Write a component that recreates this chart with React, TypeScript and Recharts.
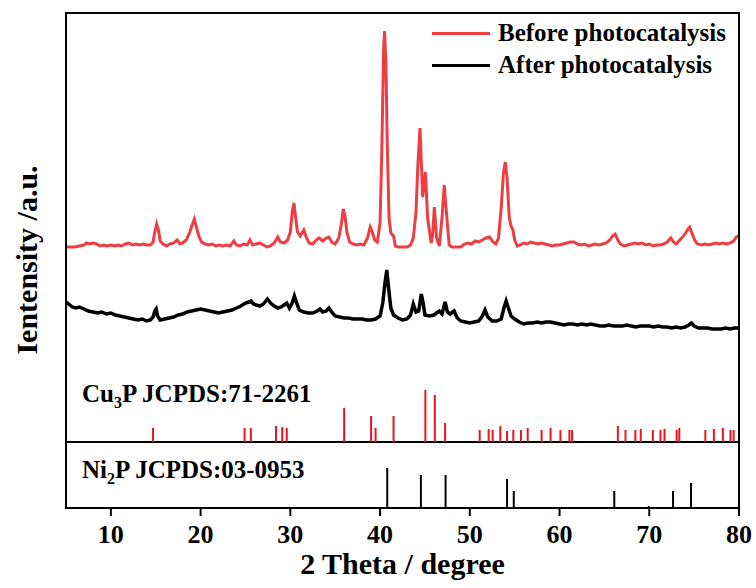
import { ComposedChart, Line, XAxis, YAxis, ReferenceLine } from "recharts";

// intensity in arbitrary units (stacked offsets baked in, 0 = bottom of the plot)
const xTicks = [10, 20, 30, 40, 50, 60, 70, 80];

const beforePattern: [number, number][] = [
  [5.0, 261], [5.5, 261], [6.0, 261], [6.5, 262], [7.0, 263], [7.3, 265], [7.6, 264], [8.0, 265],
  [8.4, 264], [8.8, 262], [9.2, 263], [9.6, 262], [10.0, 263], [10.4, 262], [10.8, 263], [11.2, 262],
  [11.6, 264], [12.0, 265], [12.4, 263], [12.8, 264], [13.2, 263], [13.6, 264], [14.0, 263], [14.4, 263],
  [14.7, 266], [14.9, 276], [15.1, 284], [15.3, 278], [15.5, 267], [15.8, 264], [16.2, 262], [16.6, 264],
  [17.0, 265], [17.4, 268], [17.7, 264], [18.0, 265], [18.4, 268], [18.8, 276], [19.1, 284], [19.3, 289],
  [19.5, 282], [19.8, 272], [20.1, 266], [20.5, 264], [20.9, 263], [21.3, 264], [21.7, 262], [22.1, 263],
  [22.5, 262], [22.9, 263], [23.3, 262], [23.7, 267], [24.0, 263], [24.4, 262], [24.8, 264], [25.2, 263],
  [25.5, 268], [25.8, 263], [26.2, 264], [26.6, 265], [27.0, 263], [27.4, 261], [27.8, 262], [28.2, 265],
  [28.6, 271], [28.9, 266], [29.3, 265], [29.7, 268], [30.0, 276], [30.2, 295], [30.4, 305], [30.6, 290],
  [30.8, 276], [31.1, 272], [31.5, 278], [31.8, 270], [32.1, 265], [32.5, 264], [32.9, 268], [33.2, 270],
  [33.6, 267], [34.0, 270], [34.3, 271], [34.6, 266], [35.0, 264], [35.4, 270], [35.7, 285], [35.9, 299],
  [36.1, 292], [36.3, 276], [36.6, 266], [37.0, 264], [37.4, 263], [37.8, 264], [38.2, 263], [38.6, 270],
  [38.9, 281], [39.1, 277], [39.4, 268], [39.7, 266], [40.0, 285], [40.2, 360], [40.4, 460], [40.5, 477],
  [40.65, 445], [40.8, 365], [41.0, 290], [41.2, 275], [41.5, 272], [41.7, 262], [42.0, 261], [42.5, 261],
  [43.0, 261], [43.4, 263], [43.7, 270], [44.0, 295], [44.2, 340], [44.45, 380], [44.75, 311], [45.05, 336],
  [45.3, 290], [45.7, 265], [45.85, 272], [46.05, 301], [46.3, 270], [46.6, 262], [46.9, 290], [47.15, 323],
  [47.4, 295], [47.7, 263], [48.0, 261], [48.5, 261], [49.0, 261], [49.4, 264], [49.8, 265], [50.2, 264],
  [50.6, 267], [51.0, 266], [51.4, 268], [51.8, 270], [52.2, 271], [52.6, 266], [52.9, 264], [53.2, 270],
  [53.5, 300], [53.75, 335], [53.95, 346], [54.15, 330], [54.4, 290], [54.6, 282], [54.8, 278], [55.0, 268],
  [55.3, 262], [55.6, 263], [56.0, 265], [56.4, 264], [56.8, 266], [57.2, 265], [57.6, 264], [58.0, 265],
  [58.4, 264], [58.8, 263], [59.2, 262], [59.6, 263], [60.0, 263], [60.4, 264], [60.8, 265], [61.2, 266],
  [61.6, 266], [62.0, 264], [62.4, 263], [62.8, 264], [63.2, 262], [63.6, 263], [64.0, 264], [64.4, 263],
  [64.8, 264], [65.2, 265], [65.6, 268], [65.9, 272], [66.2, 274], [66.5, 268], [66.8, 264], [67.2, 262],
  [67.6, 263], [68.0, 264], [68.4, 265], [68.8, 264], [69.2, 265], [69.6, 263], [70.0, 264], [70.4, 262],
  [70.8, 263], [71.2, 263], [71.6, 264], [72.0, 266], [72.4, 270], [72.7, 266], [73.0, 264], [73.3, 267],
  [73.7, 271], [74.0, 274], [74.3, 279], [74.5, 281], [74.8, 274], [75.1, 267], [75.4, 264], [75.8, 263],
  [76.2, 264], [76.6, 263], [77.0, 264], [77.4, 265], [77.8, 264], [78.2, 265], [78.6, 264], [79.0, 265],
  [79.4, 267], [79.7, 271], [80.0, 272],
];

const afterPattern: [number, number][] = [
  [5.0, 206], [5.3, 204], [5.7, 201], [6.1, 200], [6.5, 201], [7.0, 199], [7.5, 197], [8.0, 196],
  [8.5, 195], [9.0, 196], [9.5, 194], [10.0, 195], [10.5, 193], [11.0, 192], [11.5, 191], [12.0, 190],
  [12.5, 189], [13.0, 188], [13.5, 189], [14.0, 187], [14.4, 188], [14.7, 191], [14.9, 197], [15.05, 199],
  [15.2, 192], [15.5, 188], [16.0, 189], [16.5, 190], [17.0, 191], [17.5, 193], [18.0, 194], [18.5, 196],
  [19.0, 197], [19.5, 198], [20.0, 199], [20.5, 198], [21.0, 197], [21.5, 196], [22.0, 195], [22.5, 196],
  [23.0, 197], [23.5, 198], [24.0, 200], [24.5, 202], [25.0, 205], [25.4, 206], [25.6, 207], [25.9, 204],
  [26.2, 203], [26.6, 202], [27.0, 204], [27.45, 209], [27.8, 205], [28.2, 202], [28.6, 200], [29.0, 201],
  [29.3, 203], [29.6, 205], [29.9, 200], [30.2, 205], [30.45, 212], [30.7, 205], [31.0, 198], [31.5, 196],
  [32.0, 195], [32.5, 195], [33.0, 197], [33.3, 199], [33.6, 196], [34.0, 197], [34.3, 200], [34.6, 196],
  [35.0, 192], [35.5, 191], [36.0, 190], [36.5, 190], [37.0, 189], [37.5, 189], [38.0, 189], [38.5, 188],
  [39.0, 188], [39.5, 189], [40.0, 192], [40.3, 205], [40.55, 225], [40.75, 238], [40.95, 220], [41.2, 200],
  [41.5, 193], [42.0, 190], [42.5, 188], [43.0, 189], [43.4, 193], [43.7, 204], [44.0, 196], [44.3, 197],
  [44.6, 214], [44.8, 205], [45.0, 193], [45.5, 192], [46.0, 193], [46.3, 195], [46.6, 197], [46.9, 194],
  [47.25, 206], [47.5, 196], [47.8, 194], [48.25, 197], [48.6, 190], [49.0, 187], [49.5, 186], [50.0, 185],
  [50.5, 186], [51.0, 187], [51.4, 192], [51.7, 198], [52.0, 191], [52.5, 187], [53.0, 187], [53.5, 189],
  [53.8, 200], [54.05, 207], [54.3, 200], [54.6, 192], [55.0, 189], [55.5, 186], [56.0, 184], [56.5, 185],
  [57.0, 185], [57.5, 186], [58.0, 185], [58.5, 186], [59.0, 186], [59.5, 185], [60.0, 184], [60.5, 183],
  [61.0, 184], [61.5, 184], [62.0, 183], [62.5, 184], [63.0, 183], [63.5, 184], [64.0, 183], [64.5, 182],
  [65.0, 182], [65.5, 183], [66.0, 182], [66.5, 182], [67.0, 182], [67.5, 183], [68.0, 182], [68.5, 181],
  [69.0, 182], [69.5, 182], [70.0, 182], [70.5, 181], [71.0, 182], [71.5, 181], [72.0, 181], [72.5, 180],
  [73.0, 181], [73.5, 180], [74.0, 181], [74.4, 183], [74.7, 185], [75.0, 182], [75.5, 180], [76.0, 180],
  [76.5, 180], [77.0, 179], [77.5, 179], [78.0, 179], [78.5, 180], [79.0, 179], [79.5, 180], [80.0, 180],
];

// reference cards: [2theta, relative height]
const cu3pSticks: [number, number][] = [
  [14.7, 14], [24.9, 14], [25.6, 14], [28.4, 16], [29.1, 15], [29.6, 14], [36.0, 34], [39.0, 26],
  [39.5, 14], [41.5, 26], [45.05, 52], [46.1, 47], [47.25, 19], [51.1, 12], [52.1, 13], [52.55, 12],
  [53.4, 16], [54.15, 11], [54.85, 12], [55.7, 12], [56.45, 14], [58.0, 12], [59.0, 14], [60.1, 12],
  [61.1, 12], [61.4, 12], [66.5, 16], [67.35, 12], [68.45, 12], [69.05, 13], [70.4, 12], [71.25, 12],
  [71.7, 13], [73.05, 12], [73.35, 14], [76.25, 12], [77.2, 13], [78.2, 14], [79.05, 12], [79.4, 12],
];
const ni2pSticks: [number, number][] = [
  [40.8, 40], [44.55, 33], [47.3, 33], [54.15, 29], [54.9, 17], [63.5, 1], [66.1, 17], [69.95, 2],
  [72.65, 17], [74.65, 25],
];
const CU3P_BASE = 66;
const NI2P_BASE = 0;
const Y_MAX = 495;

const RED = "#ee3e44";
const STICK_RED = "#e8141e";
const FONT = "'Liberation Serif', 'Times New Roman', serif";

export default function App() {
  const before = beforePattern.map(([x, y]) => ({ x, y }));
  const after = afterPattern.map(([x, y]) => ({ x, y }));

  return (
    <div style={{ position: "absolute", left: 0, top: 0, width: 756, height: 588, background: "#fff", fontFamily: FONT }}>
      <ComposedChart width={756} height={588} margin={{ top: 13, right: 17, bottom: 40, left: 66 }}>
        <XAxis
          dataKey="x"
          type="number"
          domain={[5, 80]}
          ticks={xTicks}
          allowDataOverflow
          height={40}
          tickSize={8}
          tickMargin={9}
          axisLine={{ stroke: "#000", strokeWidth: 2 }}
          tickLine={{ stroke: "#000", strokeWidth: 2 }}
          tick={{ fill: "#000", fontSize: 26, fontWeight: "bold", fontFamily: FONT }}
          label={{ value: "2 Theta / degree", position: "bottom", offset: 5, fill: "#000", fontSize: 30, fontWeight: "bold", fontFamily: FONT }}
        />
        <YAxis type="number" domain={[0, Y_MAX]} allowDataOverflow width={0} tick={false} tickLine={false} axisLine={{ stroke: "#000", strokeWidth: 2 }} />

        <ReferenceLine y={CU3P_BASE} stroke="#000" strokeWidth={2} />
        {cu3pSticks.map(([x, h]) => (
          <ReferenceLine key={`cu${x}`} segment={[{ x, y: CU3P_BASE }, { x, y: CU3P_BASE + h }]} stroke={STICK_RED} strokeWidth={2} />
        ))}
        {ni2pSticks.map(([x, h]) => (
          <ReferenceLine key={`ni${x}`} segment={[{ x, y: NI2P_BASE }, { x, y: NI2P_BASE + h }]} stroke="#000" strokeWidth={2} />
        ))}

        <Line data={after} dataKey="y" type="linear" stroke="#000" strokeWidth={3.5} dot={false} isAnimationActive={false} />
        <Line data={before} dataKey="y" type="linear" stroke={RED} strokeWidth={3} dot={false} isAnimationActive={false} />
      </ComposedChart>

      {/* plot frame (top / right edges) */}
      <div
        style={{
          position: "absolute",
          left: 65,
          top: 12,
          width: 675,
          height: 497,
          boxSizing: "border-box",
          border: "2px solid #000",
          pointerEvents: "none",
        }}
      />

      {/* legend */}
      <div style={{ position: "absolute", left: 432, top: 17, fontSize: 25, fontWeight: "bold", lineHeight: "32px", whiteSpace: "nowrap" }}>
        <div style={{ display: "flex", alignItems: "center" }}>
          <span style={{ display: "inline-block", width: 58, height: 3, background: RED, marginRight: 8 }} />
          Before photocatalysis
        </div>
        <div style={{ display: "flex", alignItems: "center" }}>
          <span style={{ display: "inline-block", width: 58, height: 3, background: "#000", marginRight: 8 }} />
          After photocatalysis
        </div>
      </div>

      {/* card labels */}
      <div style={{ position: "absolute", left: 82, top: 380, fontSize: 25, fontWeight: "bold", whiteSpace: "nowrap" }}>
        Cu<sub style={{ fontSize: 16 }}>3</sub>P JCPDS:71-2261
      </div>
      <div style={{ position: "absolute", left: 82, top: 456, fontSize: 25, fontWeight: "bold", whiteSpace: "nowrap" }}>
        Ni<sub style={{ fontSize: 16 }}>2</sub>P JCPDS:03-0953
      </div>

      {/* y axis title */}
      <div
        style={{
          position: "absolute",
          left: 27,
          top: 260,
          transform: "translate(-50%, -50%) rotate(-90deg)",
          whiteSpace: "nowrap",
          fontSize: 30,
          fontWeight: "bold",
        }}
      >
        Ientensity /a.u.
      </div>
    </div>
  );
}
